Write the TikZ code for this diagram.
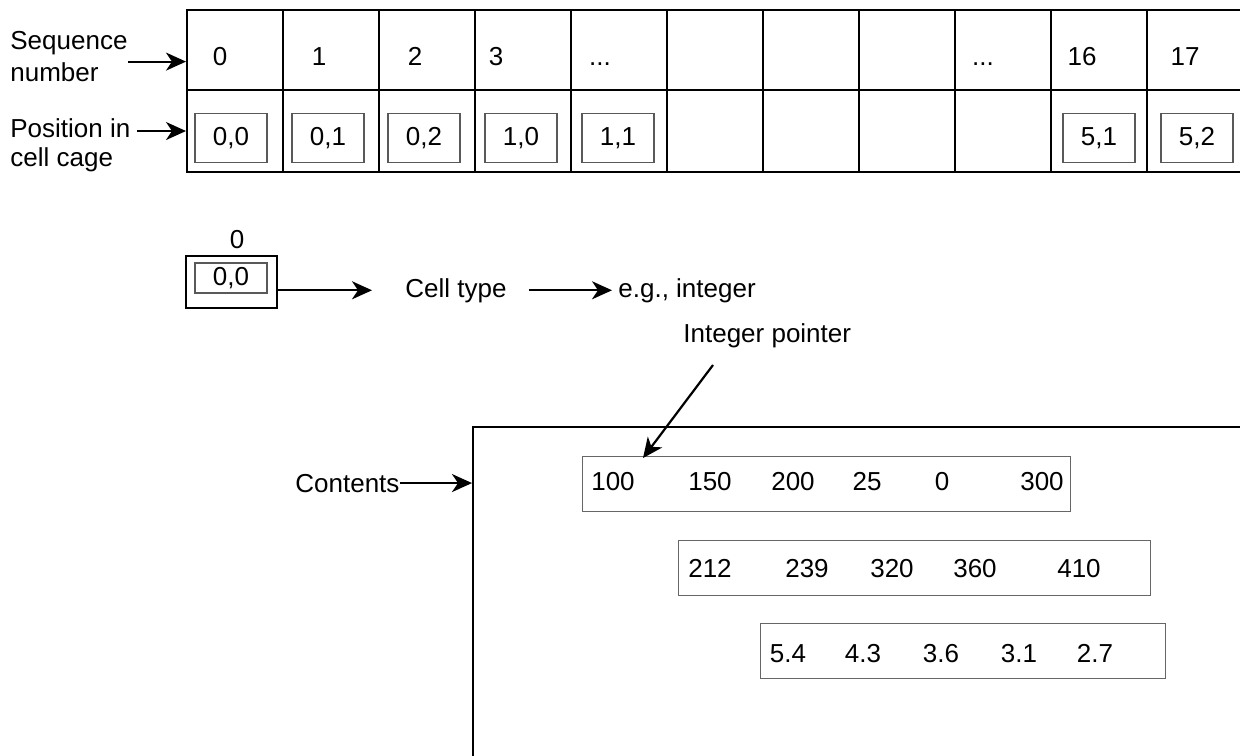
\documentclass[tikz,border=0pt]{standalone}
\usepackage{fontspec}
\setmainfont{Liberation Sans}
\usetikzlibrary{arrows.meta}
\begin{document}
\begin{tikzpicture}[x=0.5pt,y=-0.5pt,
  every node/.style={font=\fontsize{13}{14.5}\selectfont, inner sep=0pt},
  gridcell/.style={draw, line width=1.2pt, minimum width=48pt, anchor=north west},
  toprow/.style={gridcell, minimum height=40pt},
  botrow/.style={gridcell, minimum height=41pt},
  posbox/.style={draw=black!65, line width=0.6pt, minimum width=36pt, minimum height=24.5pt},
  numbox/.style={draw=black!60, line width=0.6pt, anchor=north west, minimum height=27.5pt},
  arr/.style={line width=1.1pt, -{Stealth[length=10pt,width=9pt,inset=3pt]}},
  lab/.style={anchor=base west},
  num/.style={anchor=base},
]
\useasboundingbox (0,0) rectangle (1240,755);
\clip (0,0) rectangle (1240,755);

% ---- top grid ----
\foreach \i in {0,...,10} {
  \node[toprow] (t\i) at ({186+96*\i},9) {};
  \node[botrow] (b\i) at ({186+96*\i},89) {};
}
\node[num] (s0) at (220,65) {0};
\node[num] (s1) at (319,65) {1};
\node[num] (s2) at (415,65) {2};
\node[num] (s3) at (496,65) {3};
\node[num] (s4) at (600,65) {...};
\node[num] (s5) at (983,65) {...};
\node[num] (s6) at (1082,65) {16};
\node[num] (s7) at (1185,65) {17};

\node[posbox] (p0) at (231,138) {0,0};
\node[posbox] (p1) at (328,138) {0,1};
\node[posbox] (p2) at (424,138) {0,2};
\node[posbox] (p3) at (521,138) {1,0};
\node[posbox] (p4) at (618,138) {1,1};
\node[posbox] (p5) at (1099,138) {5,1};
\node[posbox] (p6) at (1197,138) {5,2};

\node[anchor=north west, align=left, font=\fontsize{13}{16}\selectfont] (seqlab) at (10,31) {Sequence\\number};
\node[anchor=north west, align=left] (poslab) at (10,118) {Position in\\cell cage};
\coordinate (sa) at ([yshift=-2.5pt]seqlab.east);
\draw[arr] (sa) -- (sa -| t0.west);
\coordinate (pa) at ([yshift=7pt,xshift=3pt]poslab.east);
\draw[arr] (pa) -- (pa -| b0.west);

% ---- single cell ----
\node[num] (z0) at (237,248) {0};
\node[draw, line width=1.2pt, minimum width=45.5pt, minimum height=26pt] (cellbox) at (231.5,282) {};
\node[posbox, minimum height=15pt] (zp) at (231,278) {0,0};
\node[lab] (ctype) at (405,297) {Cell type};
\node[lab] (eg) at (618,297) {e.g., integer};
\node[lab] (iplab) at (683,342) {Integer pointer};
\draw[arr] (cellbox.east |- ctype) -- ([xshift=-16.5pt]ctype.west);
\draw[arr] ([xshift=11pt]ctype.east) -- ([xshift=-3pt]eg.west);

% ---- contents ----
\node[draw, line width=1pt, anchor=north west, minimum width=420pt, minimum height=200pt] (cbox) at (472,426) {};
\node[lab] (clab) at (295,492) {Contents};
\draw[arr] (clab.east) -- (clab.east -| cbox.west);

\node[numbox, minimum width=244pt] (r1) at (582,456) {};
\node[numbox, minimum width=236pt] (r2) at (678,540) {};
\node[numbox, minimum width=202.5pt] (r3) at (760,623) {};

\foreach \x/\t [count=\k] in {613/100, 710/150, 793/200, 867/25, 942/0, 1042/300}
  \node[num] (a\k) at (\x,490) {\t};
\foreach \x/\t [count=\k] in {710/212, 807/239, 892/320, 975/360, 1079/410}
  \node[num] (c\k) at (\x,577) {\t};
\foreach \x/\t [count=\k] in {788/5.4, 863/4.3, 941/3.6, 1019/3.1, 1095/2.7}
  \node[num] (d\k) at (\x,662) {\t};

\coordinate (ipstart) at (713,365);
\draw[arr] (ipstart) -- ([xshift=30.5pt,yshift=-1pt]r1.north west);
\end{tikzpicture}
\end{document}
